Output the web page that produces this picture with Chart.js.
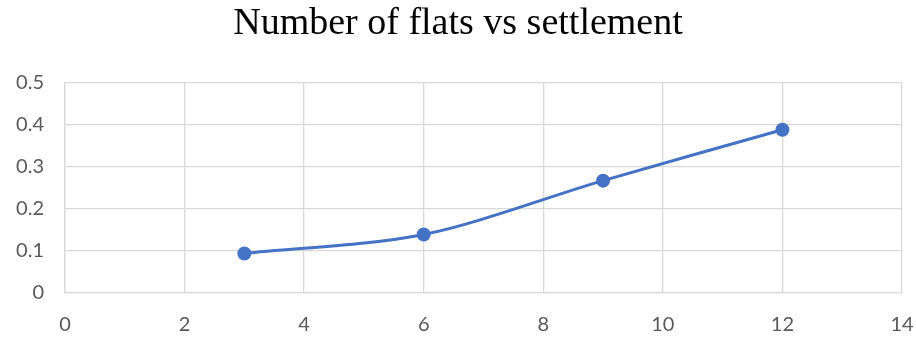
<!DOCTYPE html>
<html>
<head>
<meta charset="utf-8">
<script src="https://cdn.jsdelivr.net/npm/chart.js@4.4.0/dist/chart.umd.min.js"></script>
<style>
html,body{margin:0;padding:0;background:#fff;}
#wrap{width:916px;height:341px;}
</style>
</head>
<body>
<div id="wrap"><canvas id="c" width="916" height="341"></canvas></div>
<script>
const titleText = "Number of flats vs settlement";
const flats = [3, 6, 9, 12];
const settlement = [0.094, 0.139, 0.267, 0.388];
const xTicks = [0, 2, 4, 6, 8, 10, 12, 14];
const yTicks = [0, 0.1, 0.2, 0.3, 0.4, 0.5];

const points = flats.map((x, i) => ({x: x, y: settlement[i]}));
const tickFont = {family: "Lato, 'Liberation Sans', sans-serif", size: 20};

new Chart(document.getElementById('c'), {
  type: 'scatter',
  data: {
    datasets: [{
      data: points,
      showLine: true,
      borderColor: '#4472C4',
      backgroundColor: '#4472C4',
      borderWidth: 3,
      pointRadius: 5.5,
      pointHoverRadius: 5.5,
      tension: 0.3
    }]
  },
  options: {
    responsive: false,
    animation: false,
    events: [],
    layout: {padding: {left: 0, right: 0, top: 0, bottom: 0}},
    plugins: {
      legend: {display: false},
      tooltip: {enabled: false},
      title: {
        display: true,
        text: titleText,
        color: '#000',
        font: {family: "'Liberation Serif', 'Times New Roman', serif", size: 38, weight: 'normal', lineHeight: 1.2},
        padding: {top: 1, bottom: 36}
      }
    },
    scales: {
      x: {
        type: 'linear',
        min: xTicks[0],
        max: xTicks[xTicks.length - 1],
        afterBuildTicks: s => { s.ticks = xTicks.map(v => ({value: v})); },
        afterFit: s => { s.height = 48; s.paddingRight = 14; s.paddingLeft = 0; },
        grid: {color: '#d9d9d9', lineWidth: 1.3, drawTicks: false},
        border: {color: '#d9d9d9', width: 1.3},
        ticks: {color: '#595959', font: tickFont, padding: 20, callback: v => String(v)}
      },
      y: {
        type: 'linear',
        min: yTicks[0],
        max: yTicks[yTicks.length - 1],
        afterBuildTicks: s => { s.ticks = yTicks.map(v => ({value: v})); },
        afterFit: s => { s.width = 65; },
        grid: {color: '#d9d9d9', lineWidth: 1.3, drawTicks: false},
        border: {color: '#d9d9d9', width: 1.3},
        ticks: {color: '#595959', font: tickFont, padding: 21, callback: v => String(Math.round(v * 10) / 10)}
      }
    }
  }
});
</script>
</body>
</html>
